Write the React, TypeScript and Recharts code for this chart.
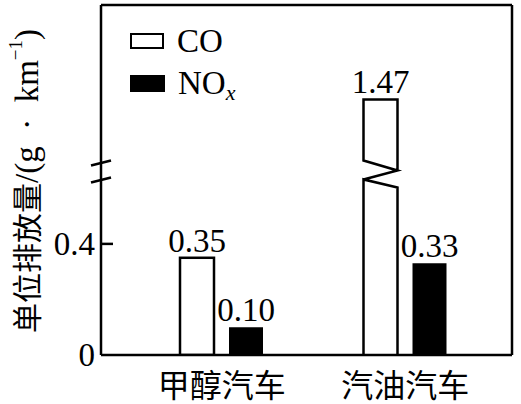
import React from 'react';
import { BarChart, Bar, XAxis, YAxis, ReferenceLine, LabelList, Legend } from 'recharts';

const categories = ['甲醇汽车', '汽油汽车'];
const coValues = [0.35, 1.47];
const noxValues = [0.1, 0.33];
const yTicks = [0, 0.4];

// broken axis: values above BREAK_HIGH are drawn shifted down to BREAK_LOW
const BREAK_LOW = 0.65;
const BREAK_HIGH = 1.2;
const Y_TOP = 1.26;

const toAxis = (v: number) => (v > BREAK_HIGH ? BREAK_LOW + (v - BREAK_HIGH) : v);

const data = categories.map((name, i) => ({ name, co: coValues[i], nox: noxValues[i] }));

const SERIF = '"Liberation Serif", "Noto Sans CJK SC", serif';
const STROKE = 2.5;

const YTick = (props: any) => {
  const { x, y, payload } = props;
  const v = payload.value as number;
  return (
    <g>
      <text x={x - 6} y={y} textAnchor="end" dominantBaseline="central" fontSize={33} fontFamily={SERIF} fill="#000">
        {v === 0 ? '0' : v.toFixed(1)}
      </text>
      {v > 0 && <line x1={x} x2={x + 12} y1={y} y2={y} stroke="#000" strokeWidth={STROKE} />}
    </g>
  );
};

const XTick = (props: any) => {
  const { x, y, payload } = props;
  return (
    <text x={x} y={y + 31} textAnchor="middle" dominantBaseline="central" fontSize={32} fontFamily={SERIF} fill="#000">
      {payload.value}
    </text>
  );
};

const YTitle = (props: any) => {
  const { viewBox } = props;
  const cx = viewBox.x + 27;
  const cy = viewBox.y + viewBox.height / 2 + 1;
  return (
    <text
      x={cx}
      y={cy}
      transform={`rotate(-90, ${cx}, ${cy})`}
      textAnchor="middle"
      dominantBaseline="central"
      fontSize={30}
      fontFamily={SERIF}
      fill="#000"
    >
      单位排放量
      <tspan fontSize={33}>/(g{'\u2002·\u2002'}km</tspan>
      <tspan dy={-12} fontSize={19}>−1</tspan>
      <tspan dy={12} fontSize={33}>)</tspan>
    </text>
  );
};

// CO bar, with a zigzag where the axis is broken
const CoBar = (props: any) => {
  const { x, y, width, height, payload } = props;
  const bottom = y + height;
  const shown = toAxis(payload.co);
  if (payload.co <= BREAK_HIGH) {
    return <rect x={x} y={y} width={width} height={height} fill="#fff" stroke="#000" strokeWidth={STROKE} />;
  }
  const yb = bottom - (BREAK_LOW * height) / shown;
  const r = x + width;
  const d =
    `M${x},${bottom} L${x},${yb + 5} L${r},${yb + 13} L${r},${bottom} ` +
    `M${x},${yb + 5} L${r},${yb - 4} L${x},${yb - 14} L${x},${y} L${r},${y} L${r},${yb - 4}`;
  return <path d={d} fill="#fff" stroke="#000" strokeWidth={STROKE} strokeLinejoin="miter" />;
};

const AxisBreak = (props: any) => {
  const { x1, y1 } = props;
  const yb = y1 - 2;
  return (
    <g>
      <rect x={x1 - 4} y={yb - 6} width={8} height={13} fill="#fff" />
      <line x1={x1 - 10} y1={yb - 7} x2={x1 + 10} y2={yb - 12} stroke="#000" strokeWidth={STROKE} />
      <line x1={x1 - 10} y1={yb + 10} x2={x1 + 10} y2={yb + 5} stroke="#000" strokeWidth={STROKE} />
    </g>
  );
};

const LegendBox = () => (
  <div style={{ fontFamily: SERIF, fontSize: 33, color: '#000', lineHeight: '42px' }}>
    <div style={{ display: 'flex', alignItems: 'center' }}>
      <span style={{ display: 'inline-block', width: 30, height: 12, border: '2.5px solid #000', background: '#fff', marginRight: 13 }} />
      CO
    </div>
    <div style={{ display: 'flex', alignItems: 'center' }}>
      <span style={{ display: 'inline-block', width: 35, height: 17, background: '#000', marginRight: 13 }} />
      NO<span style={{ fontStyle: 'italic', fontSize: 22, position: 'relative', top: 10 }}>x</span>
    </div>
  </div>
);

const LabelTop = (props: any) => {
  const { x, y, width, value } = props;
  return (
    <text x={x + width / 2} y={y - 6} textAnchor="middle" fontSize={33} fontFamily={SERIF} fill="#000">
      {Number(value).toFixed(2)}
    </text>
  );
};

export default function App() {
  return (
    <div style={{ position: 'absolute', left: 0, top: 0, width: 521, height: 404, background: '#fff' }}>
      <BarChart
        width={521}
        height={404}
        data={data}
        margin={{ top: 0, right: 0, left: 0, bottom: 0 }}
        barGap={15}
        barCategoryGap={50}
      >
        <XAxis
          dataKey="name"
          height={49}
          padding={{ left: 29, right: 15 }}
          axisLine={{ stroke: '#000', strokeWidth: STROKE }}
          tickLine={false}
          tickSize={0}
          tickMargin={0}
          tick={<XTick />}
          interval={0}
        />
        <XAxis xAxisId="top" orientation="top" dataKey="name" height={5} tick={false} tickLine={false} axisLine={{ stroke: '#000', strokeWidth: STROKE }} />
        <YAxis
          width={101}
          domain={[0, Y_TOP]}
          ticks={yTicks}
          allowDataOverflow
          axisLine={{ stroke: '#000', strokeWidth: STROKE }}
          tickLine={false}
          tickSize={0}
          tickMargin={0}
          tick={<YTick />}
          label={{ content: <YTitle /> }}
        />
        <YAxis yAxisId="right" orientation="right" width={9} domain={[0, Y_TOP]} tick={false} tickLine={false} axisLine={{ stroke: '#000', strokeWidth: STROKE }} />
        <Legend
          layout="vertical"
          verticalAlign="middle"
          align="center"
          content={<LegendBox />}
          wrapperStyle={{ left: 130, top: 20, width: 'auto', height: 'auto' }}
        />
        <Bar dataKey={(d: any) => toAxis(d.co)} name="CO" fill="#fff" shape={<CoBar />} isAnimationActive={false}>
          <LabelList dataKey="co" content={<LabelTop />} />
        </Bar>
        <Bar dataKey="nox" name="NOx" fill="#000" isAnimationActive={false}>
          <LabelList dataKey="nox" content={<LabelTop />} />
        </Bar>
        <ReferenceLine y={BREAK_LOW} stroke="none" shape={<AxisBreak />} ifOverflow="visible" />
      </BarChart>
    </div>
  );
}
